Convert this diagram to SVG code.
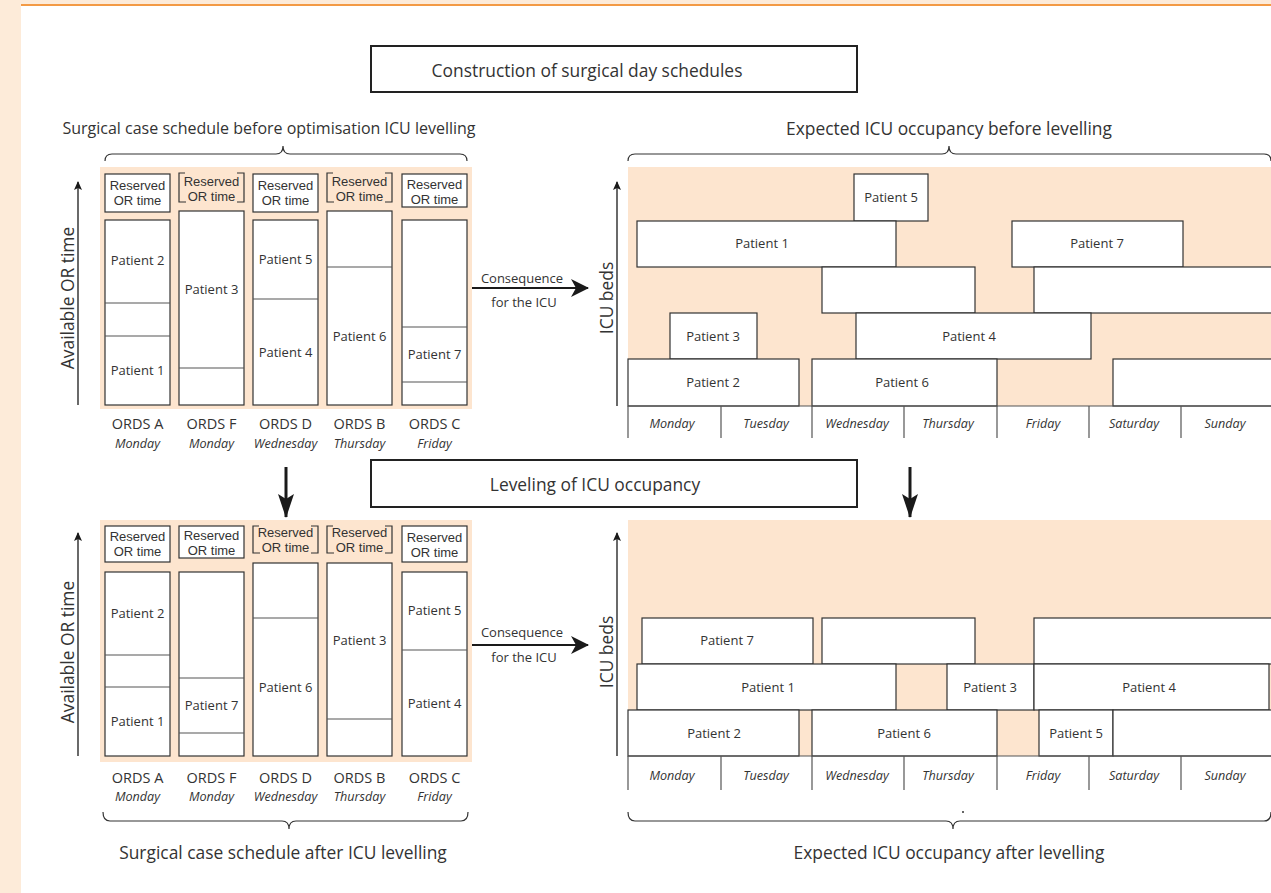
<svg xmlns="http://www.w3.org/2000/svg" width="1271" height="893" viewBox="0 0 1271 893">
<style>
text{font-family:"Open Sans","Liberation Sans",sans-serif;fill:#333;}
.t13{font-size:13px;}
.rs{font-family:"Liberation Sans",Arial,sans-serif;font-size:13px;}
.od{font-size:14.5px;}
.it{font-size:12.6px;font-style:italic;}
.hd{font-size:17.4px;}
.ax{font-size:17.4px;}
.c{text-anchor:middle;dominant-baseline:central;}
.bx{fill:#fff;stroke:#333;stroke-width:1.2;}
.br{fill:none;stroke:#333;stroke-width:1.2;}
.pan{fill:#fde5cf;}
.ttl{fill:#fff;stroke:#222;stroke-width:2;}
.div{stroke:#555;stroke-width:1.2;}
.arr{stroke:#1a1a1a;fill:none;}
</style>
<defs>
<marker id="ah" markerUnits="userSpaceOnUse" markerWidth="18" markerHeight="18" refX="17" refY="9" orient="auto"><path d="M0,0 L18,9 L0,18 L5,9 Z" fill="#1a1a1a"/></marker>
<marker id="ahd" markerUnits="userSpaceOnUse" markerWidth="24" markerHeight="16" refX="23" refY="8" orient="auto"><path d="M0,0 L24,8 L0,16 L5,8 Z" fill="#1a1a1a"/></marker>
<marker id="as" markerUnits="userSpaceOnUse" markerWidth="9" markerHeight="8" refX="8" refY="4" orient="auto"><path d="M0,0 L9,4 L0,8 L2,4 Z" fill="#1a1a1a"/></marker>
</defs>

<!-- page background -->
<rect x="0" y="0" width="1271" height="893" fill="#fff"/>
<rect x="0" y="0" width="21" height="893" fill="#fdebd9"/>
<rect x="21" y="0" width="1250" height="4" fill="#fdebd9"/>
<rect x="21" y="4" width="1250" height="2" fill="#f39a45"/>

<!-- titles -->
<g id="title-construction">
<rect class="ttl" x="371" y="46" width="486" height="46"/>
<text class="hd c" x="587" y="70">Construction of surgical day schedules</text>
</g>
<g id="title-leveling">
<rect class="ttl" x="371" y="460" width="486" height="47"/>
<text class="hd c" x="595" y="484">Leveling of ICU occupancy</text>
</g>

<!-- captions and braces -->
<g id="caption-or-before">
<text class="c" style="font-size:16px" x="269" y="128">Surgical case schedule before optimisation ICU levelling</text>
<path class="br" d="M105,161 Q105,154 112,154 L276,154 Q283,154 283,146 Q283,154 290,154 L460,154 Q467,154 467,161"/>
</g>
<g id="caption-icu-before">
<text class="hd c" x="949" y="128">Expected ICU occupancy before levelling</text>
<path class="br" d="M628,161 Q628,154 635,154 L942,154 Q949,154 949,146 Q949,154 956,154 L1264,154 Q1271,154 1271,161"/>
</g>
<g id="caption-or-after">
<path class="br" d="M103,812 Q103,821 110,821 L282,821 Q289,821 289,829 Q289,821 296,821 L461,821 Q468,821 468,812"/>
<text class="hd c" x="283" y="852">Surgical case schedule after ICU levelling</text>
</g>
<g id="caption-icu-after">
<path class="br" d="M628,812 Q628,821 635,821 L946,821 Q953,821 953,829 Q953,821 960,821 L1264,821 Q1271,821 1271,812"/>
<circle cx="963" cy="812" r="1" fill="#333"/>
<text class="hd c" x="949" y="852">Expected ICU occupancy after levelling</text>
</g>

<!-- ===== TOP OR schedule ===== -->
<g id="or-before">
<rect class="pan" x="100" y="167" width="372" height="242"/>
<g id="or-before-axis">
<line class="arr" x1="78" y1="405" x2="78" y2="182" stroke-width="1.3" marker-end="url(#as)"/>
<text class="ax c" transform="translate(67,298) rotate(-90)">Available OR time</text>
</g>
<g id="or-before-A">
<rect class="bx" x="105" y="174" width="65" height="38"/>
<text class="rs c" x="137.5" y="185">Reserved</text><text class="rs c" x="137.5" y="200">OR time</text>
<rect class="bx" x="105" y="220" width="65" height="185"/>
<line class="div" x1="105" y1="303" x2="170" y2="303"/><line class="div" x1="105" y1="336" x2="170" y2="336"/>
<text class="t13 c" x="137.5" y="260">Patient 2</text><text class="t13 c" x="137.5" y="370">Patient 1</text>
<text class="od c" x="137.5" y="423">ORDS A</text><text class="it c" x="137.5" y="443">Monday</text>
</g>
<g id="or-before-F">
<path class="br" d="M185,173 H179 V202 H186 M237,173 H244 V202 H237"/>
<text class="rs c" x="211.5" y="181.5">Reserved</text><text class="rs c" x="211.5" y="196.5">OR time</text>
<rect class="bx" x="179" y="211" width="65" height="194"/>
<line class="div" x1="179" y1="368" x2="244" y2="368"/>
<text class="t13 c" x="211.5" y="289">Patient 3</text>
<text class="od c" x="211.5" y="423">ORDS F</text><text class="it c" x="211.5" y="443">Monday</text>
</g>
<g id="or-before-D">
<rect class="bx" x="253" y="174" width="65" height="38"/>
<text class="rs c" x="285.5" y="185">Reserved</text><text class="rs c" x="285.5" y="200">OR time</text>
<rect class="bx" x="253" y="220" width="65" height="185"/>
<line class="div" x1="253" y1="299" x2="318" y2="299"/>
<text class="t13 c" x="285.5" y="259">Patient 5</text><text class="t13 c" x="285.5" y="352">Patient 4</text>
<text class="od c" x="285.5" y="423">ORDS D</text><text class="it c" x="285.5" y="443">Wednesday</text>
</g>
<g id="or-before-B">
<path class="br" d="M333,173 H327 V202 H334 M385,173 H392 V202 H385"/>
<text class="rs c" x="359.5" y="181.5">Reserved</text><text class="rs c" x="359.5" y="196.5">OR time</text>
<rect class="bx" x="327" y="211" width="65" height="194"/>
<line class="div" x1="327" y1="267" x2="392" y2="267"/>
<text class="t13 c" x="359.5" y="336">Patient 6</text>
<text class="od c" x="359.5" y="423">ORDS B</text><text class="it c" x="359.5" y="443">Thursday</text>
</g>
<g id="or-before-C">
<rect class="bx" x="402" y="174" width="65" height="33"/>
<text class="rs c" x="434.5" y="184">Reserved</text><text class="rs c" x="434.5" y="199">OR time</text>
<rect class="bx" x="402" y="220" width="65" height="185"/>
<line class="div" x1="402" y1="327" x2="467" y2="327"/><line class="div" x1="402" y1="382" x2="467" y2="382"/>
<text class="t13 c" x="434.5" y="354">Patient 7</text>
<text class="od c" x="434.5" y="423">ORDS C</text><text class="it c" x="434.5" y="443">Friday</text>
</g>
</g>

<!-- ===== TOP ICU chart ===== -->
<g id="icu-before">
<rect class="pan" x="628" y="167" width="643" height="239"/>
<g id="icu-before-axis">
<line class="arr" x1="617" y1="406" x2="617" y2="182" stroke-width="1.3" marker-end="url(#as)"/>
<text class="ax c" transform="translate(606,298) rotate(-90)">ICU beds</text>
</g>
<g id="icu-before-p5"><rect class="bx" x="854" y="174" width="74" height="47"/><text class="t13 c" x="891" y="197">Patient 5</text></g>
<g id="icu-before-p1"><rect class="bx" x="637" y="221" width="259" height="46"/><text class="t13 c" x="762" y="243">Patient 1</text></g>
<g id="icu-before-p7"><rect class="bx" x="1012" y="221" width="171" height="46"/><text class="t13 c" x="1097" y="243">Patient 7</text></g>
<g id="icu-before-b1"><rect class="bx" x="822" y="267" width="153" height="46"/></g>
<g id="icu-before-b2"><rect class="bx" x="1034" y="267" width="240" height="46"/></g>
<g id="icu-before-p3"><rect class="bx" x="670" y="313" width="87" height="46"/><text class="t13 c" x="713" y="336">Patient 3</text></g>
<g id="icu-before-p4"><rect class="bx" x="856" y="313" width="235" height="46"/><text class="t13 c" x="969" y="336">Patient 4</text></g>
<g id="icu-before-p2"><rect class="bx" x="628" y="359" width="171" height="47"/><text class="t13 c" x="713" y="382">Patient 2</text></g>
<g id="icu-before-p6"><rect class="bx" x="812" y="359" width="185" height="47"/><text class="t13 c" x="902" y="382">Patient 6</text></g>
<g id="icu-before-b3"><rect class="bx" x="1113" y="359" width="161" height="47"/></g>
<g id="icu-before-days">
<line class="div" x1="628" y1="406" x2="1271" y2="406"/>
<path class="div" fill="none" d="M628,406 V438 M721,406 V438 M812,406 V438 M904,406 V438 M997,406 V438 M1089,406 V438 M1181,406 V438"/>
<text class="it c" x="672" y="423">Monday</text><text class="it c" x="766" y="423">Tuesday</text><text class="it c" x="857" y="423">Wednesday</text><text class="it c" x="948" y="423">Thursday</text><text class="it c" x="1043" y="423">Friday</text><text class="it c" x="1134" y="423">Saturday</text><text class="it c" x="1225" y="423">Sunday</text>
</g>
</g>

<!-- ===== BOTTOM OR schedule ===== -->
<g id="or-after">
<rect class="pan" x="100" y="520" width="372" height="242"/>
<g id="or-after-axis">
<line class="arr" x1="78" y1="756" x2="78" y2="533" stroke-width="1.3" marker-end="url(#as)"/>
<text class="ax c" transform="translate(67,652) rotate(-90)">Available OR time</text>
</g>
<g id="or-after-A">
<rect class="bx" x="105" y="526" width="65" height="36"/>
<text class="rs c" x="137.5" y="536.5">Reserved</text><text class="rs c" x="137.5" y="551.5">OR time</text>
<rect class="bx" x="105" y="572" width="65" height="184"/>
<line class="div" x1="105" y1="655" x2="170" y2="655"/><line class="div" x1="105" y1="687" x2="170" y2="687"/>
<text class="t13 c" x="137.5" y="613">Patient 2</text><text class="t13 c" x="137.5" y="721">Patient 1</text>
<text class="od c" x="137.5" y="777">ORDS A</text><text class="it c" x="137.5" y="796">Monday</text>
</g>
<g id="or-after-F">
<rect class="bx" x="179" y="526" width="65" height="32"/>
<text class="rs c" x="211.5" y="535">Reserved</text><text class="rs c" x="211.5" y="550">OR time</text>
<rect class="bx" x="179" y="572" width="65" height="184"/>
<line class="div" x1="179" y1="678" x2="244" y2="678"/><line class="div" x1="179" y1="733" x2="244" y2="733"/>
<text class="t13 c" x="211.5" y="705">Patient 7</text>
<text class="od c" x="211.5" y="777">ORDS F</text><text class="it c" x="211.5" y="796">Monday</text>
</g>
<g id="or-after-D">
<path class="br" d="M259,526 H253 V553 H260 M311,526 H318 V553 H311"/>
<text class="rs c" x="285.5" y="532">Reserved</text><text class="rs c" x="285.5" y="547">OR time</text>
<rect class="bx" x="253" y="563" width="65" height="193"/>
<line class="div" x1="253" y1="618" x2="318" y2="618"/>
<text class="t13 c" x="285.5" y="687">Patient 6</text>
<text class="od c" x="285.5" y="777">ORDS D</text><text class="it c" x="285.5" y="796">Wednesday</text>
</g>
<g id="or-after-B">
<path class="br" d="M333,526 H327 V553 H334 M385,526 H392 V553 H385"/>
<text class="rs c" x="359.5" y="532">Reserved</text><text class="rs c" x="359.5" y="547">OR time</text>
<rect class="bx" x="327" y="563" width="65" height="193"/>
<line class="div" x1="327" y1="719" x2="392" y2="719"/>
<text class="t13 c" x="359.5" y="640">Patient 3</text>
<text class="od c" x="359.5" y="777">ORDS B</text><text class="it c" x="359.5" y="796">Thursday</text>
</g>
<g id="or-after-C">
<rect class="bx" x="402" y="526" width="65" height="36"/>
<text class="rs c" x="434.5" y="537">Reserved</text><text class="rs c" x="434.5" y="552">OR time</text>
<rect class="bx" x="402" y="572" width="65" height="184"/>
<line class="div" x1="402" y1="650" x2="467" y2="650"/>
<text class="t13 c" x="434.5" y="610">Patient 5</text><text class="t13 c" x="434.5" y="703">Patient 4</text>
<text class="od c" x="434.5" y="777">ORDS C</text><text class="it c" x="434.5" y="796">Friday</text>
</g>
</g>

<!-- ===== BOTTOM ICU chart ===== -->
<g id="icu-after">
<rect class="pan" x="628" y="520" width="643" height="236"/>
<g id="icu-after-axis">
<line class="arr" x1="617" y1="756" x2="617" y2="533" stroke-width="1.3" marker-end="url(#as)"/>
<text class="ax c" transform="translate(606,652) rotate(-90)">ICU beds</text>
</g>
<g id="icu-after-p7"><rect class="bx" x="642" y="618" width="171" height="46"/><text class="t13 c" x="727" y="640">Patient 7</text></g>
<g id="icu-after-b1"><rect class="bx" x="822" y="618" width="153" height="46"/></g>
<g id="icu-after-b2"><rect class="bx" x="1034" y="618" width="240" height="46"/></g>
<g id="icu-after-p1"><rect class="bx" x="637" y="664" width="259" height="46"/><text class="t13 c" x="768" y="687">Patient 1</text></g>
<g id="icu-after-p3"><rect class="bx" x="947" y="664" width="87" height="46"/><text class="t13 c" x="990" y="687">Patient 3</text></g>
<g id="icu-after-p4"><rect class="bx" x="1034" y="664" width="235" height="46"/><text class="t13 c" x="1149" y="687">Patient 4</text></g>
<g id="icu-after-p2"><rect class="bx" x="628" y="710" width="171" height="46"/><text class="t13 c" x="714" y="733">Patient 2</text></g>
<g id="icu-after-p6"><rect class="bx" x="812" y="710" width="185" height="46"/><text class="t13 c" x="904" y="733">Patient 6</text></g>
<g id="icu-after-p5"><rect class="bx" x="1039" y="710" width="74" height="46"/><text class="t13 c" x="1076" y="733">Patient 5</text></g>
<g id="icu-after-b3"><rect class="bx" x="1113" y="710" width="161" height="46"/></g>
<g id="icu-after-days">
<line class="div" x1="628" y1="756" x2="1271" y2="756"/>
<path class="div" fill="none" d="M628,756 V790 M721,756 V790 M812,756 V790 M904,756 V790 M997,756 V790 M1089,756 V790 M1181,756 V790"/>
<text class="it c" x="672" y="775">Monday</text><text class="it c" x="766" y="775">Tuesday</text><text class="it c" x="857" y="775">Wednesday</text><text class="it c" x="948" y="775">Thursday</text><text class="it c" x="1043" y="775">Friday</text><text class="it c" x="1134" y="775">Saturday</text><text class="it c" x="1225" y="775">Sunday</text>
</g>
</g>

<!-- ===== connectors ===== -->
<g id="connectors">
<g id="conn-consequence-top">
<line class="arr" x1="472" y1="288" x2="588" y2="288" stroke-width="2.2" marker-end="url(#ah)"/>
<text class="t13 c" x="522" y="278">Consequence</text>
<text class="t13 c" x="524" y="302">for the ICU</text>
</g>
<g id="conn-consequence-bottom">
<line class="arr" x1="472" y1="645" x2="588" y2="645" stroke-width="2.2" marker-end="url(#ah)"/>
<text class="t13 c" x="522" y="632">Consequence</text>
<text class="t13 c" x="524" y="657">for the ICU</text>
</g>
<line id="conn-down-left" class="arr" x1="286" y1="467" x2="286" y2="517" stroke-width="3" marker-end="url(#ahd)"/>
<line id="conn-down-right" class="arr" x1="910" y1="467" x2="910" y2="517" stroke-width="3" marker-end="url(#ahd)"/>
</g>
</svg>
